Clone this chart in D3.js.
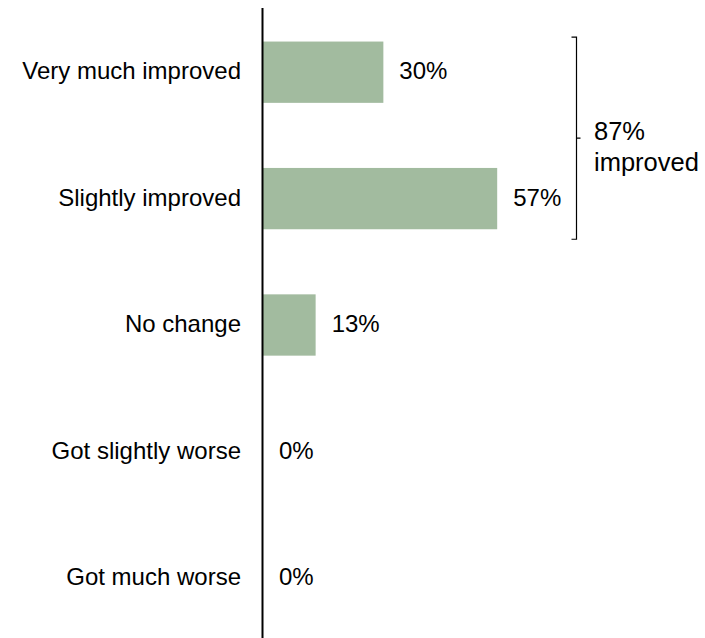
<!DOCTYPE html>
<html>
<head>
<meta charset="utf-8">
<script src="https://cdn.jsdelivr.net/npm/d3@7"></script>
<style>
  html, body { margin: 0; padding: 0; background: #fff; }
  svg { display: block; }
  text { font-family: "Liberation Sans", Arial, Helvetica, sans-serif; fill: #000; }
</style>
</head>
<body>
<script>
const categories = ["Very much improved", "Slightly improved", "No change", "Got slightly worse", "Got much worse"];
const values = [29.5, 57.4, 12.9, 0, 0];
const valueLabels = ["30%", "57%", "13%", "0%", "0%"];
const bracketLabel = ["87%", "improved"];
const bracketCategories = ["Very much improved", "Slightly improved"];

const W = 705, H = 638;
const svg = d3.select("body").append("svg").attr("width", W).attr("height", H);

const axisX = 263;
const x = d3.scaleLinear().domain([0, 100]).range([axisX, axisX + 408]);
const y = d3.scaleBand().domain(categories).range([9, 641]).paddingInner(0.515).paddingOuter(0.2575);

const fontSize = 24;

// bars
svg.append("g").selectAll("rect").data(categories).join("rect")
  .attr("x", x(0))
  .attr("y", d => y(d))
  .attr("width", (d, i) => x(values[i]) - x(0))
  .attr("height", y.bandwidth())
  .attr("fill", "#a2bb9f");

// axis line
svg.append("line")
  .attr("x1", axisX - 0.5).attr("x2", axisX - 0.5)
  .attr("y1", 8).attr("y2", H)
  .attr("stroke", "#000").attr("stroke-width", 2);

// category labels
svg.append("g").selectAll("text").data(categories).join("text")
  .attr("x", axisX - 22)
  .attr("y", d => y(d) + y.bandwidth() / 2)
  .attr("dy", "0.3em")
  .attr("text-anchor", "end")
  .style("font-size", fontSize + "px")
  .text(d => d);

// value labels
svg.append("g").selectAll("text").data(categories).join("text")
  .attr("x", (d, i) => x(values[i]) + 16)
  .attr("y", d => y(d) + y.bandwidth() / 2)
  .attr("dy", "0.3em")
  .style("font-size", fontSize + "px")
  .text((d, i) => valueLabels[i]);

// bracket
const bTop = y(bracketCategories[0]) - 4.5;
const bBot = y(bracketCategories[1]) + y.bandwidth() + 10;
const bX = 576.5;
const bMid = (bTop + bBot) / 2;
svg.append("path")
  .attr("d", `M${bX - 5},${bTop}H${bX}V${bBot}H${bX - 5}M${bX},${bMid}H${bX + 4}`)
  .attr("fill", "none").attr("stroke", "#000").attr("stroke-width", 1.2);

svg.append("g").selectAll("text").data(bracketLabel).join("text")
  .attr("x", 594)
  .attr("y", (d, i) => 140 + i * 31)
  .style("font-size", "25.5px")
  .text(d => d);
</script>
</body>
</html>
